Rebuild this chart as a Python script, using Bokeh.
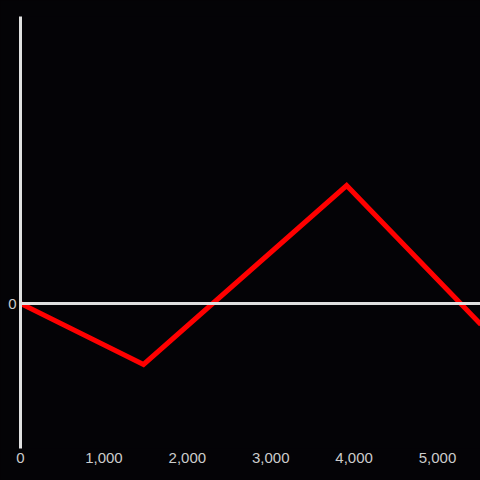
from bokeh.plotting import figure
from bokeh.models import FixedTicker, NumeralTickFormatter, Span, Range1d
from bokeh.embed import file_html
from bokeh.resources import INLINE

# data
xs = [0, 1475, 3910, 5520]
ys = [0, -61, 118, -21]
x_ticks = [0, 1000, 2000, 3000, 4000, 5000]
y_ticks = [0]

BG = "#040306"
AX = "#e0e0e0"
LBL = "#cccccc"

p = figure(width=480, height=480, output_backend="svg", toolbar_location=None,
           x_range=Range1d(0, 5515), y_range=Range1d(-145, 287),
           background_fill_color=BG, border_fill_color=BG,
           min_border_left=20, min_border_right=0, min_border_top=16, min_border_bottom=32)
p.outline_line_color = None
p.xgrid.visible = False
p.ygrid.visible = False

p.line(xs, ys, line_color="#ff0000", line_width=5, line_join="miter")

p.add_layout(Span(location=0, dimension="width", line_color=AX, line_width=3))

xa = p.xaxis[0]
xa.ticker = FixedTicker(ticks=x_ticks)
xa.formatter = NumeralTickFormatter(format="0,0")
xa.axis_line_color = None
xa.major_tick_line_color = None
xa.minor_tick_line_color = None
xa.major_tick_out = 0
xa.major_label_standoff = 4
xa.major_label_text_color = LBL
xa.major_label_text_font = "Liberation Sans"
xa.major_label_text_font_size = "15px"

ya = p.yaxis[0]
ya.ticker = FixedTicker(ticks=y_ticks)
ya.axis_line_color = AX
ya.axis_line_width = 3
ya.major_tick_line_color = None
ya.minor_tick_line_color = None
ya.major_tick_out = 0
ya.major_tick_in = 0
ya.major_label_standoff = 4
ya.major_label_text_color = LBL
ya.major_label_text_font = "Liberation Sans"
ya.major_label_text_font_size = "15px"

html = file_html(p, INLINE)
html = html.replace("<head>", "<head><style>body{background:%s;}</style>" % BG, 1)
open("out.html", "w").write(html)
